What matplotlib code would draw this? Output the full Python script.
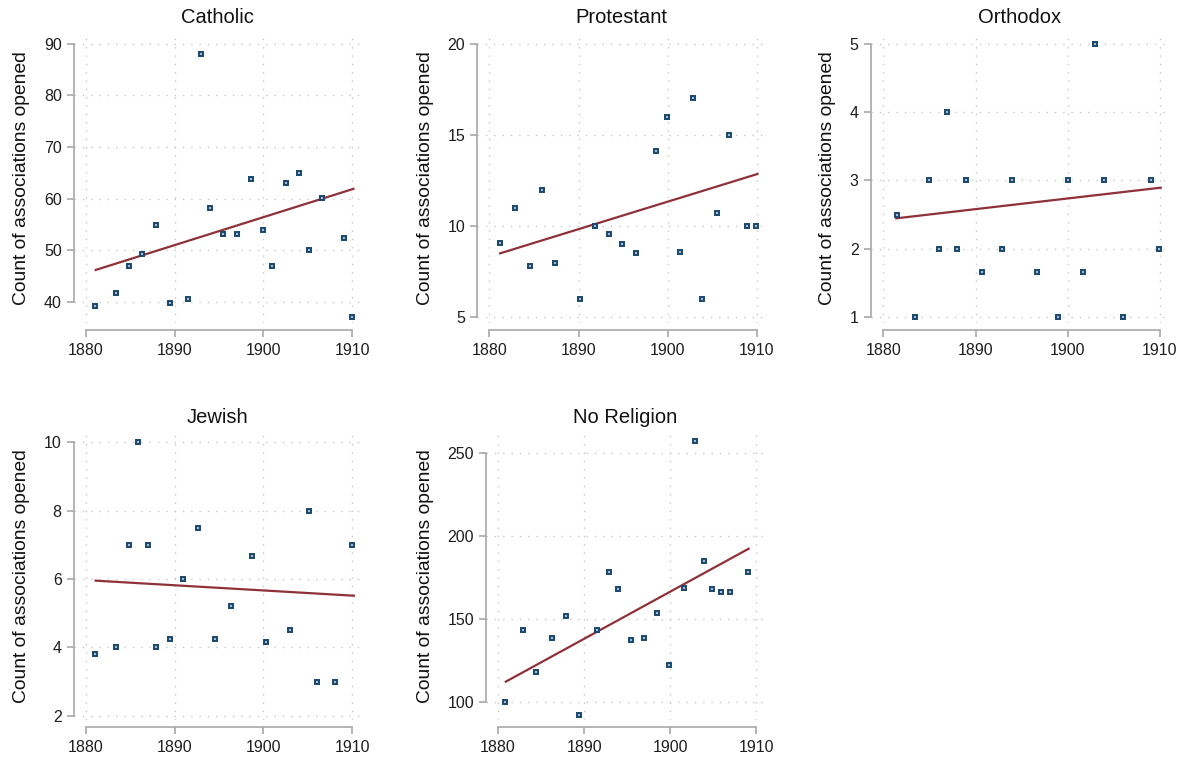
import numpy as np
import matplotlib
matplotlib.use("Agg")
import matplotlib.pyplot as plt

plt.rcParams['font.family'] = ['Liberation Sans', 'DejaVu Sans']

# ---------------- data ----------------
catholic_x = [1881.05, 1883.4, 1884.9, 1886.35, 1887.9, 1889.5, 1891.5, 1893.0, 1894.0, 1895.4,
              1897.0, 1898.6, 1900.0, 1901.0, 1902.5, 1904.0, 1905.1, 1906.6, 1909.1, 1910.0]
catholic_y = [39.3, 41.7, 47.0, 49.2, 54.9, 39.8, 40.6, 88.1, 58.1, 53.1,
              53.1, 63.8, 54.0, 47.0, 63.1, 64.9, 50.0, 60.2, 52.4, 37.0]

protestant_x = [1881.16, 1882.9, 1884.5, 1885.9, 1887.4, 1890.2, 1891.9, 1893.4, 1894.9, 1896.5,
                1898.7, 1899.9, 1901.4, 1902.9, 1903.9, 1905.55, 1906.9, 1908.9, 1909.9]
protestant_y = [9.07, 11.0, 7.81, 12.0, 7.96, 6.0, 10.0, 9.55, 9.02, 8.51,
                14.12, 16.0, 8.56, 17.0, 6.0, 10.7, 15.0, 10.0, 10.0]

orthodox_x = [1881.45, 1883.4, 1885.0, 1886.0, 1886.9, 1887.95, 1889.0, 1890.66, 1892.9, 1893.95,
              1896.66, 1898.94, 1900.0, 1901.65, 1902.98, 1903.9, 1906.0, 1909.0, 1909.9]
orthodox_y = [2.5, 1.0, 3.0, 2.0, 4.0, 2.0, 3.0, 1.667, 2.0, 3.0,
              1.667, 1.0, 3.0, 1.667, 5.0, 3.0, 1.0, 3.0, 2.0]

jewish_x = [1881.05, 1883.4, 1884.9, 1885.9, 1887.0, 1887.9, 1889.5, 1890.96, 1892.65, 1894.6,
            1896.3, 1898.7, 1900.3, 1903.0, 1905.1, 1906.06, 1908.1, 1910.0]
jewish_y = [3.8, 4.0, 7.0, 10.0, 7.0, 4.0, 4.25, 6.0, 7.5, 4.25,
            5.2, 6.67, 4.17, 4.5, 8.0, 3.0, 3.0, 7.0]

norel_x = [1880.8, 1882.9, 1884.4, 1886.3, 1887.9, 1889.4, 1891.5, 1892.9, 1893.9, 1895.4,
           1896.95, 1898.5, 1899.9, 1901.6, 1902.9, 1903.9, 1904.9, 1905.9, 1906.9, 1909.0]
norel_y = [100.0, 143.5, 117.9, 138.3, 151.9, 91.9, 143.5, 178.1, 168.3, 137.0,
           138.3, 153.8, 121.9, 168.9, 257.2, 185.0, 168.3, 166.4, 166.4, 178.1]

# fitted-line endpoints (years, values)
catholic_fit_x = [1881.1, 1910.15]
catholic_fit_y = [46.2, 61.9]
protestant_fit_x = [1881.2, 1910.1]
protestant_fit_y = [8.51, 12.86]
orthodox_fit_x = [1881.4, 1910.1]
orthodox_fit_y = [2.447, 2.895]
jewish_fit_x = [1881.1, 1910.2]
jewish_fit_y = [5.95, 5.51]
norel_fit_x = [1880.9, 1909.1]
norel_fit_y = [112.1, 192.4]

titles = ["Catholic", "Protestant", "Orthodox", "Jewish", "No Religion"]
x_ticks = [1880, 1890, 1900, 1910]
y_ticks = [[40, 50, 60, 70, 80, 90], [5, 10, 15, 20], [1, 2, 3, 4, 5],
           [2, 4, 6, 8, 10], [100, 150, 200, 250]]
ylabel = "Count of associations opened"

series = [(catholic_x, catholic_y), (protestant_x, protestant_y), (orthodox_x, orthodox_y),
          (jewish_x, jewish_y), (norel_x, norel_y)]
fits = [(catholic_fit_x, catholic_fit_y), (protestant_fit_x, protestant_fit_y),
        (orthodox_fit_x, orthodox_fit_y), (jewish_fit_x, jewish_fit_y), (norel_fit_x, norel_fit_y)]

# ---------------- layout ----------------
W, H = 1179, 758
fig = plt.figure(figsize=(W / 100, H / 100), dpi=100)

# pixel boxes (left, top, right, bottom) of plot regions
boxes = [(73.5, 33, 361, 323), (477, 33, 765.5, 323), (870.5, 33, 1169, 323),
         (73.5, 433, 361, 720), (486, 433, 765, 720)]
ylims = [(35.93, 92.07), (4.69, 20.59), (0.917, 5.156), (1.874, 10.27), (88.95, 262.3)]
xlim = (1878.6, 1911.0)

navy = "#1a476f"
maroon = "#8f3139"
gray = "#a8a8a8"
gridc = "#c8c8c8"

for i in range(5):
    l, t, r, b = boxes[i]
    ax = fig.add_axes([l / W, 1 - b / H, (r - l) / W, (b - t) / H])
    x, y = series[i]
    fx, fy = fits[i]
    ax.set_xlim(*xlim)
    ax.set_ylim(*ylims[i])
    ax.set_xticks(x_ticks)
    ax.set_yticks(y_ticks[i])
    ax.grid(True, color=gridc, linestyle=(0, (1, 5)), linewidth=1.0)
    ax.set_axisbelow(True)
    ax.plot(fx, fy, color=maroon, linewidth=1.6, zorder=3)
    ax.plot(x, y, linestyle="none", marker="s", markersize=3.4,
            markerfacecolor="#a9bdd2", markeredgecolor=navy, markeredgewidth=1.4,
            zorder=4, clip_on=False)
    for s in ["top", "right"]:
        ax.spines[s].set_visible(False)
    ax.spines["left"].set_color(gray)
    ax.spines["bottom"].set_color(gray)
    ax.spines["left"].set_linewidth(1.2)
    ax.spines["bottom"].set_linewidth(1.2)
    ax.spines["bottom"].set_position(("outward", 5))
    ax.spines["left"].set_bounds(y_ticks[i][0], y_ticks[i][-1])
    ax.spines["bottom"].set_bounds(x_ticks[0], x_ticks[-1])
    ax.tick_params(axis="both", colors=gray, labelcolor="#1e1e1e", labelsize=11.5,
                   length=5, width=1.2)
    ax.tick_params(axis="y", pad=3.5)
    ax.tick_params(axis="x", pad=4.5)
    ax.set_title(titles[i], fontsize=14.5, pad=7, color="#111111")
    ax.set_ylabel(ylabel, fontsize=13.9, color="#111111", labelpad=10)
    ax.set_facecolor("white")

fig.savefig("out.png", dpi=100, facecolor="white")
